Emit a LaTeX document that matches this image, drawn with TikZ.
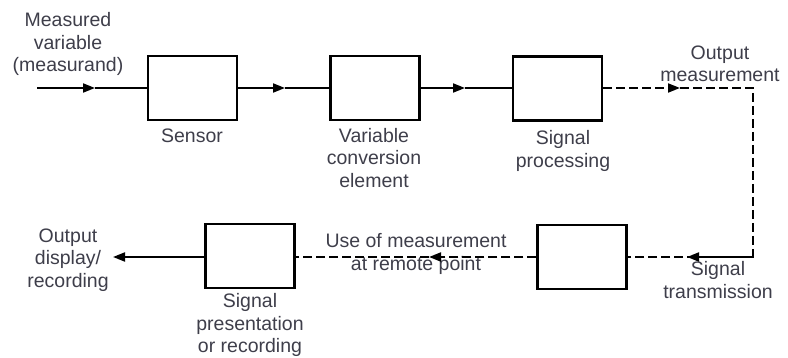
\documentclass[tikz,border=0pt]{standalone}
\usepackage{fontspec}
\setmainfont{Liberation Sans}
\usetikzlibrary{arrows.meta}
\definecolor{txtc}{HTML}{3E3E4A}
\begin{document}
\begin{tikzpicture}[x=1pt,y=-1pt,
  blk/.style={draw=black, line width=2.4pt, minimum width=89pt, minimum height=64pt, inner sep=0pt},
  lbl/.style={text=txtc, font=\fontsize{19.5}{22.5}\selectfont, align=center, inner sep=0pt},
  sig/.style={line width=2pt},
  dsig/.style={line width=1.8pt, dash pattern=on 9pt off 4pt},
  tip/.style={-{Triangle[length=12pt,width=9pt]}}
]
\useasboundingbox (0,0) rectangle (788,358);
% blocks
\node[blk] (sen) at (192.5,88) {};
\node[blk] (vc)  at (375,88) {};
\node[blk] (sp)  at (557.5,88.5) {};
\node[blk] (tr)  at (582,257) {};
\node[blk] (pr)  at (250,256) {};
% labels
\node[lbl] (lmeas) at (68,44) {Measured\\variable\\(measurand)};
\node[lbl] (lsen) at (192,136) {Sensor};
\node[lbl] (lvc) at (374,158) {Variable\\conversion\\element};
\node[lbl] (lsp) at (563,151) {Signal\\processing};
\node[lbl] (lom) at (720,64) {Output\\measurement};
\node[lbl] (ltr) at (718,280) {Signal\\transmission};
\node[lbl] (luse) at (416,254) {Use of measurement\\at remote point};
\node[lbl] (lout) at (68,260) {Output\\display/\\recording};
\node[lbl] (lpr) at (250,325) {Signal\\presentation\\or recording};
% coordinates
\coordinate (in) at (37,88);
\coordinate (a1) at (95,88);
\coordinate (a2) at (285,88);
\coordinate (a3) at (465,88);
\coordinate (a4) at (680,88);
\coordinate (c1) at (753,88);
\coordinate (c2) at (753,257);
\coordinate (a5) at (687,257);
\coordinate (a6) at (429,257);
\coordinate (out) at (113,257);
% connectors
\draw[sig,tip] (in) -- (a1);
\draw[sig] (a1) -- (sen.west);
\draw[sig,tip] (sen.east) -- (a2);
\draw[sig] (a2) -- (vc.west);
\draw[sig,tip] (vc.east) -- (a3);
\draw[sig] (a3) -- (sp.west |- a3);
\draw[dsig,tip] (sp.east |- a4) -- (a4);
\draw[dsig] (a4) -- (c1) -- (c2) -- (tr.east);
\draw[dsig,tip] (c2) -- (a5);
\draw[dsig,tip] (tr.west) -- (a6);
\draw[dsig] (a6) -- (pr.east |- a6);
\draw[sig,tip] (pr.west |- out) -- (out);
\end{tikzpicture}
\end{document}
